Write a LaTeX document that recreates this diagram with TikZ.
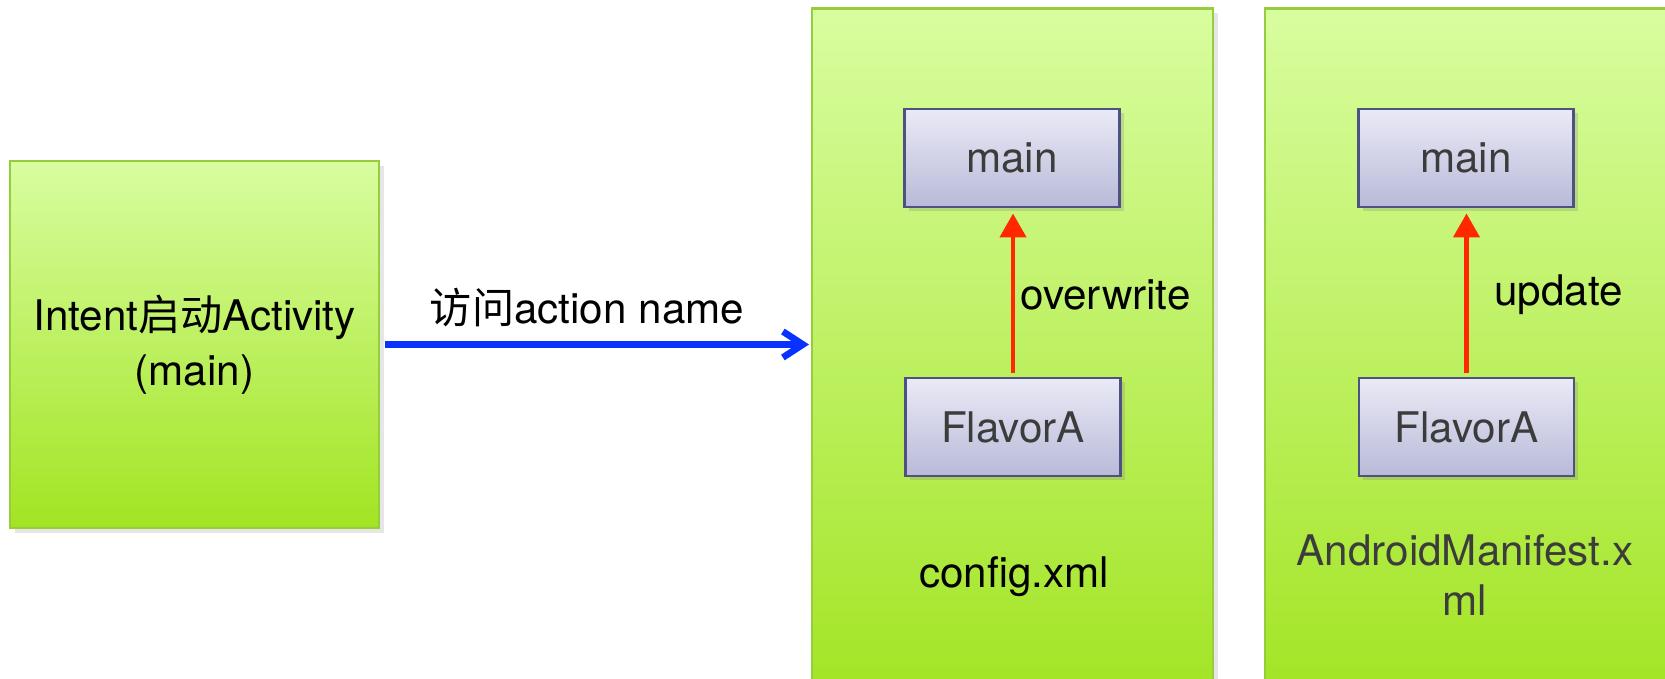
\documentclass[tikz,border=0pt]{standalone}
\usepackage{fontspec}
\setmainfont{TeX Gyre Heros}
\newfontfamily\cjk{Noto Sans CJK SC}
\usepackage{xcolor}
\usetikzlibrary{arrows.meta,shadows,positioning}
\definecolor{leaf-top}{RGB}{216,253,160}
\definecolor{leaf-bottom}{RGB}{162,228,34}
\definecolor{leaf-line}{RGB}{150,205,60}
\definecolor{lilac-top}{RGB}{234,234,246}
\definecolor{lilac-bottom}{RGB}{184,186,216}
\definecolor{lilac-line}{RGB}{78,82,130}
\definecolor{link-blue}{RGB}{10,50,255}
\definecolor{link-red}{RGB}{255,40,0}
\definecolor{label-grey}{RGB}{60,60,60}
\tikzstyle{leafbox}=[draw=leaf-line, line width=.6pt, top color=leaf-top, bottom color=leaf-bottom, drop shadow={opacity=.2, shadow xshift=.5mm, shadow yshift=-.5mm}]
\tikzstyle{flavorbox}=[draw=lilac-line, line width=.7pt, top color=lilac-top, bottom color=lilac-bottom, minimum width=2.15cm, minimum height=.98cm, text=label-grey, drop shadow={opacity=.25, shadow xshift=.4mm, shadow yshift=-.4mm}]
\tikzstyle{merge}=[link-red, line width=1.3pt, -{Triangle[length=2.4mm,width=2.6mm]}, shorten >=1.5pt, shorten <=1pt]
\tikzstyle{reach}=[link-blue, line width=1.9pt, -{Straight Barb[length=2mm,width=2.6mm,line width=1.9pt]}, shorten <=.5mm]

\begin{document}
\begin{tikzpicture}[font=\fontsize{12pt}{15.6pt}\selectfont]
	\useasboundingbox (0,0) rectangle (16.65,6.78);
	\clip (0,0) rectangle (16.65,6.78);
	\node[leafbox, minimum width=3.69cm, minimum height=3.67cm, align=center] (intent) at (1.945,3.335) {Intent{\cjk 启动}Activity\\(main)};
	\node[leafbox, minimum width=4.01cm, minimum height=7.0cm] (config) at (10.125,3.195) {};
	\node[leafbox, minimum width=4.05cm, minimum height=7.0cm] (manifest) at (14.675,3.195) {};
	\node[flavorbox] (main1) at (10.12,5.20) {main};
	\node[flavorbox] (flavor1) at (10.13,2.51) {FlavorA};
	\node[flavorbox] (main2) at (14.66,5.20) {main};
	\node[flavorbox] (flavor2) at (14.665,2.51) {FlavorA};
	\draw[merge] (flavor1.north) -- (flavor1.north |- main1.south);
	\draw[merge] (flavor2.north) -- (flavor2.north |- main2.south);
	\node[anchor=west] (overwrite) at (10.08,3.83) {overwrite};
	\node[anchor=west] (update) at (14.82,3.83) {update};
	\node (configname) at (10.14,1.01) {config.xml};
	\node[align=center, text=label-grey, font=\fontsize{12pt}{14.2pt}\selectfont] (manifestname) at (14.65,1.03) {AndroidManifest.x\\ml};
	\coordinate (tip) at (8.09,3.335);
	\draw[reach] (intent.east) -- (tip);
	\node (access) at (5.87,3.70) {{\cjk 访问}action name};
\end{tikzpicture}
\end{document}
